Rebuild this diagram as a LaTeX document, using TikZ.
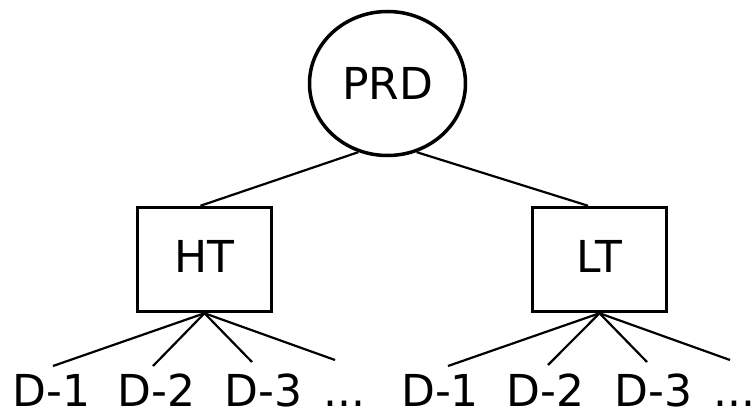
\documentclass[tikz,border=0pt]{standalone}
\usepackage{fontspec}
\setmainfont{DejaVu Sans}
\usetikzlibrary{shapes.geometric}
\begin{document}
\begin{tikzpicture}[x=1pt,y=-1pt,
  every node/.style={font=\fontsize{44}{52}\selectfont},
  rootnode/.style={ellipse,draw,line width=3.5pt,minimum width=156pt,minimum height=144pt,inner sep=0pt},
  boxnode/.style={rectangle,draw,line width=3.5pt,minimum width=134pt,minimum height=104pt,inner sep=0pt,text depth=7pt},
  leaf/.style={anchor=base,inner sep=0pt},
  conn/.style={line width=2.2pt}]
\useasboundingbox (0,0) rectangle (756,412);
\node[rootnode] (PRD) at (387.5,83.5) {PRD};
\node[boxnode] (HT) at (204.5,259.5) {HT};
\node[boxnode] (LT) at (599.5,259.5) {LT};
\draw[conn] (PRD.247) -- ([xshift=-4pt]HT.north);
\draw[conn] (PRD.293) -- ([xshift=-11.5pt]LT.north);
\node[leaf] (a1) at (51.5,406) {D-1};
\node[leaf] (a2) at (156.5,406) {D-2};
\node[leaf] (a3) at (263.5,406) {D-3};
\node[leaf] (a4) at (344,406) {...};
\node[leaf] (b1) at (440,406) {D-1};
\node[leaf] (b2) at (545.5,406) {D-2};
\node[leaf] (b3) at (653.5,406) {D-3};
\node[leaf] (b4) at (734,406) {...};
\coordinate (ea1) at (53,366);
\coordinate (ea2) at (153,366);
\coordinate (ea3) at (252,362);
\coordinate (ea4) at (335,360);
\coordinate (eb1) at (448,366);
\coordinate (eb2) at (548,365);
\coordinate (eb3) at (647,362);
\coordinate (eb4) at (730,360);
\foreach \i in {1,2,3,4}{
  \draw[conn] (HT.south) -- (ea\i);
  \draw[conn] (LT.south) -- (eb\i);
}
\end{tikzpicture}
\end{document}
